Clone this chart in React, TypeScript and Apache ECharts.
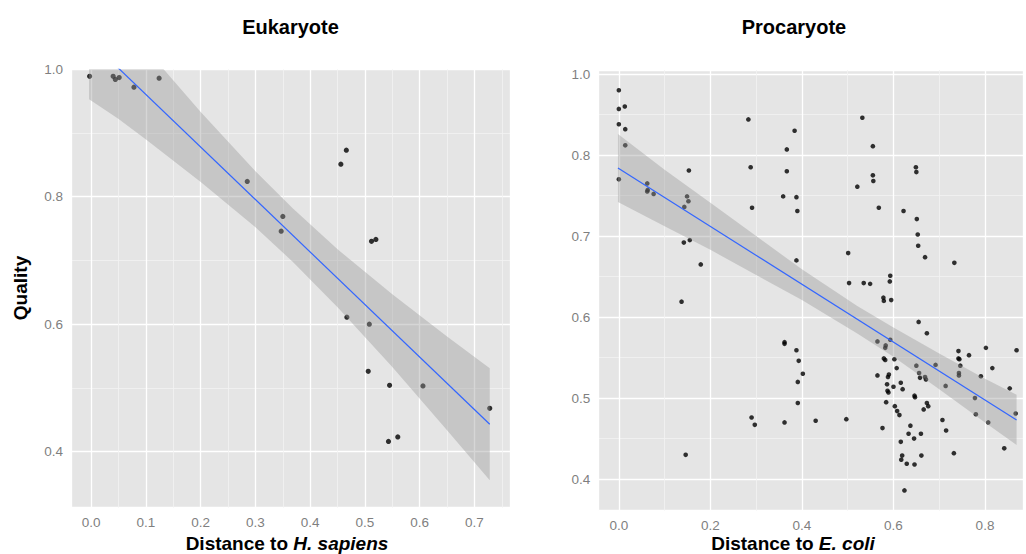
import React, { useEffect, useRef } from "react";
import * as echarts from "echarts";

// Eukaryote panel: points
const euX = [-0.003, 0.040, 0.044, 0.051, 0.078, 0.124, 0.285, 0.466, 0.456, 0.350, 0.347, 0.512, 0.520, 0.467, 0.508, 0.506, 0.545, 0.606, 0.728, 0.543, 0.560];
const euY = [0.989, 0.989, 0.984, 0.987, 0.972, 0.986, 0.824, 0.873, 0.851, 0.769, 0.746, 0.730, 0.733, 0.611, 0.600, 0.526, 0.504, 0.503, 0.468, 0.416, 0.423];
// Eukaryote fit line and confidence band
const euFitX = [-0.004, 0.728];
const euFitY = [1.046, 0.443];
const euBandX = [-0.004, 0.05, 0.1, 0.2, 0.3, 0.368, 0.45, 0.55, 0.65, 0.728];
const euBandLo = [0.953, 0.922, 0.890, 0.823, 0.752, 0.698, 0.6265, 0.533, 0.4335, 0.355];
const euBandHi = [1.136, 1.082, 1.032, 0.933, 0.840, 0.782, 0.7175, 0.647, 0.5805, 0.531];

// Procaryote panel: points
const proX = [
  0.000, 0.000, 0.013, 0.000, 0.014, 0.014, 0.000, 0.153, 0.062, 0.063, 0.062, 0.076, 0.149, 0.152, 0.143, 0.142, 0.155, 0.179,
  0.283, 0.384, 0.367, 0.288, 0.367, 0.521, 0.359, 0.388, 0.291, 0.390, 0.501, 0.388, 0.503,
  0.532, 0.555, 0.649, 0.650, 0.555, 0.556, 0.568, 0.622, 0.651, 0.653, 0.654, 0.669, 0.733, 0.535, 0.549, 0.593, 0.592,
  0.137, 0.146,
  0.362, 0.362, 0.388, 0.393, 0.402, 0.391, 0.391, 0.290, 0.297, 0.362, 0.430, 0.497,
  0.578, 0.579, 0.595, 0.655, 0.673, 0.565, 0.583, 0.582, 0.593, 0.579, 0.582, 0.602, 0.607, 0.565, 0.590, 0.588, 0.586, 0.600,
  0.587, 0.589, 0.616, 0.620, 0.584, 0.646, 0.647, 0.603, 0.608, 0.613, 0.576, 0.637, 0.633, 0.660, 0.645, 0.616, 0.619, 0.617,
  0.661, 0.629, 0.646, 0.624, 0.650, 0.656, 0.658, 0.669, 0.671, 0.692, 0.673, 0.676, 0.666, 0.707, 0.715, 0.732, 0.714, 0.742,
  0.742, 0.744, 0.746, 0.743, 0.743, 0.765, 0.802, 0.816, 0.791, 0.778, 0.780, 0.807, 0.854, 0.869, 0.867, 0.842
];
const proY = [
  0.880, 0.857, 0.860, 0.838, 0.832, 0.812, 0.770, 0.781, 0.765, 0.757, 0.755, 0.752, 0.749, 0.743, 0.736, 0.692, 0.695, 0.665,
  0.844, 0.830, 0.807, 0.785, 0.780, 0.761, 0.749, 0.748, 0.735, 0.731, 0.679, 0.670, 0.642,
  0.846, 0.811, 0.785, 0.779, 0.775, 0.768, 0.735, 0.731, 0.721, 0.702, 0.688, 0.674, 0.667, 0.642, 0.641, 0.651, 0.644,
  0.619, 0.430,
  0.569, 0.567, 0.559, 0.546, 0.530, 0.520, 0.494, 0.476, 0.467, 0.470, 0.472, 0.474,
  0.624, 0.620, 0.621, 0.594, 0.580, 0.570, 0.565, 0.562, 0.572, 0.549, 0.547, 0.548, 0.537, 0.528, 0.529, 0.526, 0.517, 0.514,
  0.509, 0.507, 0.519, 0.511, 0.495, 0.503, 0.501, 0.490, 0.484, 0.479, 0.463, 0.466, 0.456, 0.456, 0.450, 0.446, 0.429, 0.424,
  0.429, 0.419, 0.418, 0.386, 0.540, 0.531, 0.525, 0.526, 0.523, 0.541, 0.494, 0.490, 0.486, 0.473, 0.460, 0.432, 0.515, 0.558,
  0.549, 0.548, 0.540, 0.531, 0.528, 0.553, 0.562, 0.537, 0.527, 0.500, 0.480, 0.470, 0.512, 0.559, 0.481, 0.438
];
// Procaryote fit line and confidence band
const proFitX = [-0.002, 0.869];
const proFitY = [0.784, 0.473];
const proBandX = [-0.002, 0.1, 0.2, 0.3, 0.4, 0.52, 0.6, 0.7, 0.8, 0.869];
const proBandLo = [0.742, 0.712, 0.683, 0.652, 0.621, 0.580, 0.551, 0.511, 0.470, 0.442];
const proBandHi = [0.826, 0.782, 0.741, 0.700, 0.659, 0.614, 0.587, 0.555, 0.524, 0.504];

// Tick label text shown at tick values (the right panel's top tick reads "1.0")
const euYTickLabels: Record<string, string> = { "0.4": "0.4", "0.6": "0.6", "0.8": "0.8", "1.0": "1.0" };
const proYTickLabels: Record<string, string> = { "0.4": "0.4", "0.5": "0.5", "0.6": "0.6", "0.7": "0.7", "0.8": "0.8", "0.9": "1.0" };

const FONT = '"Liberation Sans", Arial, Helvetica, sans-serif';

function onGrid(v: number, step: number) {
  const k = v / step;
  return Math.abs(k - Math.round(k)) < 1e-6;
}

function makeAxis(gridIndex: number, min: number, max: number, step: number, labels?: Record<string, string>) {
  return {
    type: "value",
    gridIndex,
    min,
    max,
    minInterval: step,
    maxInterval: step,
    axisLine: { show: false },
    axisTick: { show: false },
    minorTick: { show: false, splitNumber: 2 },
    splitLine: { show: true, lineStyle: { color: "#FFFFFF", width: 1.3 } },
    minorSplitLine: { show: true, lineStyle: { color: "#F2F2F2", width: 0.8 } },
    axisLabel: {
      color: "#7F7F7F",
      fontSize: 13.5,
      fontFamily: FONT,
      margin: 8,
      hideOverlap: false,
      formatter: (v: number) => {
        if (!onGrid(v, step)) return "";
        const key = v.toFixed(1);
        if (labels) return labels[key] ?? "";
        return key;
      },
    },
  };
}

function pairs(xs: number[], ys: number[]) {
  return xs.map((x, i) => [x, ys[i]]);
}

function bandSeries(idx: number, xs: number[], lo: number[], hi: number[]) {
  return {
    type: "custom",
    xAxisIndex: idx,
    yAxisIndex: idx,
    clip: true,
    silent: true,
    z: 3,
    data: [[xs[0], lo[0]]],
    renderItem: (_params: any, api: any) => {
      const pts: number[][] = [];
      for (let i = 0; i < xs.length; i++) pts.push(api.coord([xs[i], hi[i]]));
      for (let i = xs.length - 1; i >= 0; i--) pts.push(api.coord([xs[i], lo[i]]));
      return {
        type: "polygon",
        shape: { points: pts, smooth: 0 },
        style: { fill: "rgba(153,153,153,0.4)", stroke: "none" },
      };
    },
  };
}

export default function App() {
  const ref = useRef<HTMLDivElement>(null);
  useEffect(() => {
    document.body.style.margin = "0";
    if (!ref.current) return;
    const chart = echarts.init(ref.current, undefined, { renderer: "svg" });
    const titleFont = { fontSize: 20, fontWeight: "bold", fontFamily: FONT, fill: "#000" };
    const axisTitleFont = { fontSize: 19, fontWeight: "bold", fontFamily: FONT, fill: "#000" };
    chart.setOption({
      animation: false,
      grid: [
        { left: 71, top: 69.3, width: 439, height: 438.4, show: true, backgroundColor: "#E5E5E5", borderWidth: 0 },
        { left: 598.3, top: 70, width: 427.7, height: 440.7, show: true, backgroundColor: "#E5E5E5", borderWidth: 0 },
      ],
      xAxis: [makeAxis(0, -0.037, 0.765, 0.1), makeAxis(1, -0.0449, 0.883, 0.2)],
      yAxis: [makeAxis(0, 0.312, 1.0, 0.2, euYTickLabels), makeAxis(1, 0.361, 0.905, 0.1, proYTickLabels)],
      series: [
        {
          type: "scatter",
          xAxisIndex: 0,
          yAxisIndex: 0,
          data: pairs(euX, euY),
          symbolSize: 5.2,
          itemStyle: { color: "#000000" },
          z: 2,
          silent: true,
        },
        bandSeries(0, euBandX, euBandLo, euBandHi),
        {
          type: "line",
          xAxisIndex: 0,
          yAxisIndex: 0,
          data: pairs(euFitX, euFitY),
          showSymbol: false,
          symbol: "none",
          lineStyle: { color: "#3366FF", width: 1.2 },
          z: 4,
          clip: true,
          silent: true,
        },
        {
          type: "scatter",
          xAxisIndex: 1,
          yAxisIndex: 1,
          data: pairs(proX, proY),
          symbolSize: 4.6,
          itemStyle: { color: "#000000" },
          z: 2,
          silent: true,
        },
        bandSeries(1, proBandX, proBandLo, proBandHi),
        {
          type: "line",
          xAxisIndex: 1,
          yAxisIndex: 1,
          data: pairs(proFitX, proFitY),
          showSymbol: false,
          symbol: "none",
          lineStyle: { color: "#3366FF", width: 1.2 },
          z: 4,
          clip: true,
          silent: true,
        },
      ],
      graphic: [
        { type: "text", x: 290.5, y: 27, style: { text: "Eukaryote", ...titleFont, align: "center", verticalAlign: "middle" } },
        { type: "text", x: 794, y: 27, style: { text: "Procaryote", ...titleFont, align: "center", verticalAlign: "middle" } },
        {
          type: "text",
          x: 20,
          y: 288,
          rotation: Math.PI / 2,
          style: { text: "Quality", ...axisTitleFont, align: "center", verticalAlign: "middle" },
        },
        {
          type: "text",
          x: 287,
          y: 543,
          style: {
            text: "{a|Distance to }{b|H. sapiens}",
            align: "center",
            verticalAlign: "middle",
            rich: {
              a: { fontSize: 19, fontWeight: "bold", fontFamily: FONT, color: "#000" },
              b: { fontSize: 19, fontWeight: "bold", fontStyle: "italic", fontFamily: FONT, color: "#000" },
            },
          },
        },
        {
          type: "text",
          x: 793,
          y: 543,
          style: {
            text: "{a|Distance to }{b|E. coli}",
            align: "center",
            verticalAlign: "middle",
            rich: {
              a: { fontSize: 19, fontWeight: "bold", fontFamily: FONT, color: "#000" },
              b: { fontSize: 19, fontWeight: "bold", fontStyle: "italic", fontFamily: FONT, color: "#000" },
            },
          },
        },
      ],
    });
    return () => chart.dispose();
  }, []);
  return <div ref={ref} style={{ width: 1026, height: 554 }} />;
}
